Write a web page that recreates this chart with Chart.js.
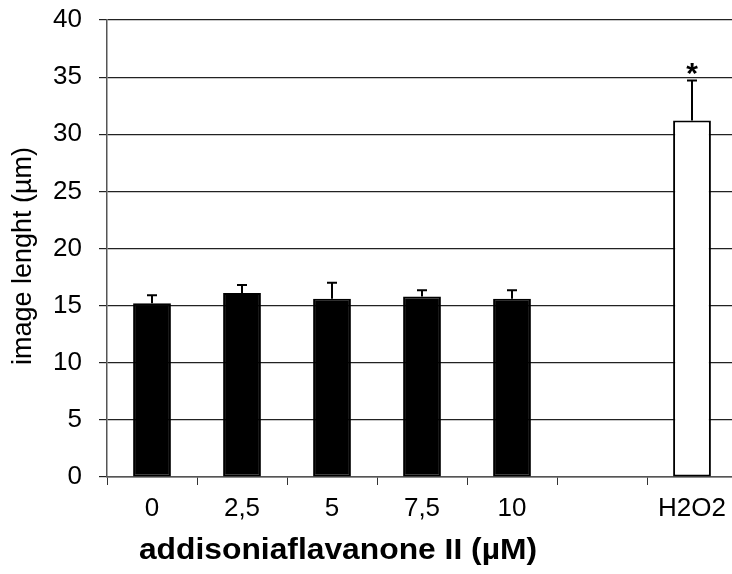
<!DOCTYPE html>
<html>
<head>
<meta charset="utf-8">
<script src="https://cdn.jsdelivr.net/npm/chart.js@4.4.1/dist/chart.umd.min.js"></script>
<style>
  html, body { margin: 0; padding: 0; background: #fff; overflow: hidden; }
  #wrap { position: relative; width: 737px; height: 574px; }
</style>
</head>
<body>
<div id="wrap"><canvas id="chart"></canvas></div>
<script>
// data
const categories = ["0", "2,5", "5", "7,5", "10", "", "H2O2"];
const means = [15.2, 16.1, 15.6, 15.8, 15.6, null, 31.2];
const errorsUp = [0.7, 0.7, 1.4, 0.55, 0.75, null, 3.5];
const significance = ["", "", "", "", "", "", "*"];
const barColors = ["#000", "#000", "#000", "#000", "#000", "#000", "#fff"];
const yTitle = "image lenght (µm)";
const xTitle = "addisoniaflavanone II (µM)";

const FONT = "'Liberation Sans', Arial, sans-serif";

// error bars (upper only) + significance star
const errorBars = {
  id: "errorBars",
  afterDatasetsDraw(chart) {
    const ctx = chart.ctx;
    const x = chart.scales.x;
    const y = chart.scales.y;
    ctx.save();
    ctx.strokeStyle = "#000";
    ctx.lineWidth = 2;
    means.forEach((m, i) => {
      if (m == null) return;
      const cx = x.getPixelForValue(i);
      const top = y.getPixelForValue(m + errorsUp[i]);
      const base = y.getPixelForValue(m);
      ctx.beginPath();
      ctx.moveTo(cx, base);
      ctx.lineTo(cx, top);
      ctx.moveTo(cx - 5, top);
      ctx.lineTo(cx + 5, top);
      ctx.stroke();
      if (significance[i]) {
        ctx.fillStyle = "#000";
        ctx.font = "bold 30px " + FONT;
        ctx.textAlign = "center";
        ctx.textBaseline = "alphabetic";
        ctx.fillText(significance[i], cx, top + 2);
      }
    });
    ctx.restore();
  }
};

// axis titles placed where the original has them
const axisTitles = {
  id: "axisTitles",
  afterDraw(chart) {
    const ctx = chart.ctx;
    ctx.save();
    ctx.fillStyle = "#000";
    ctx.textAlign = "center";
    ctx.textBaseline = "middle";
    ctx.font = "27px " + FONT;
    ctx.translate(24, 256);
    ctx.rotate(-Math.PI / 2);
    ctx.fillText(yTitle, 0, 0);
    ctx.restore();

    ctx.save();
    ctx.fillStyle = "#000";
    ctx.textAlign = "center";
    ctx.textBaseline = "alphabetic";
    ctx.font = "bold 30px " + FONT;
    ctx.translate(338, 559);
    ctx.scale(1.06, 1);
    ctx.fillText(xTitle, 0, 0);
    ctx.restore();
  }
};

new Chart(document.getElementById("chart"), {
  type: "bar",
  data: {
    labels: categories,
    datasets: [{
      data: means,
      backgroundColor: barColors,
      borderColor: "#000",
      borderWidth: 2,
      borderSkipped: false,
      barPercentage: 0.42,
      categoryPercentage: 1
    }]
  },
  options: {
    responsive: true,
    maintainAspectRatio: false,
    animation: false,
    layout: { padding: { top: 20, right: 0, bottom: 0, left: 0 } },
    plugins: {
      legend: { display: false },
      tooltip: { enabled: false }
    },
    scales: {
      x: {
        afterFit(scale) {
          scale.height = 97;
          scale.paddingLeft = 0;
          scale.paddingRight = 0;
        },
        grid: {
          offset: true,
          drawOnChartArea: false,
          drawTicks: true,
          tickLength: 8,
          color: "#333"
        },
        border: { color: "#555", width: 1.5 },
        ticks: {
          color: "#000",
          font: { size: 26, family: FONT },
          padding: 8,
          maxRotation: 0,
          autoSkip: false
        }
      },
      y: {
        min: 0,
        max: 40,
        afterFit(scale) {
          scale.width = 107;
          scale.paddingTop = 0;
          scale.paddingBottom = 0;
        },
        grid: {
          color: "#222",
          lineWidth: 1.2,
          tickLength: 8
        },
        border: { color: "#555", width: 1.5 },
        ticks: {
          stepSize: 5,
          color: "#000",
          font: { size: 26, family: FONT },
          padding: 17
        }
      }
    }
  },
  plugins: [errorBars, axisTitles]
});
</script>
</body>
</html>
